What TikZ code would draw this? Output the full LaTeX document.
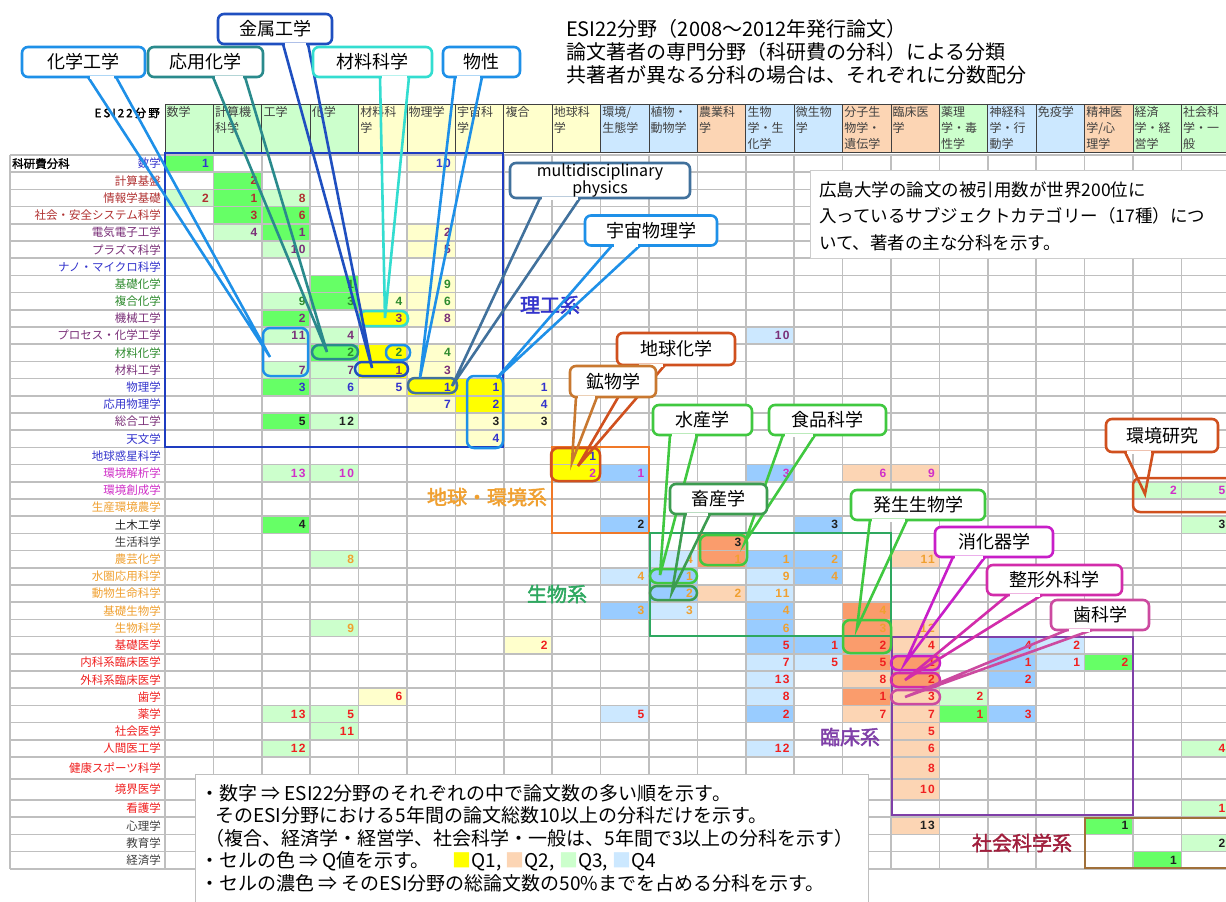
\documentclass[tikz,border=0pt]{standalone}
\usepackage{fontspec}
\setmainfont{Noto Sans CJK JP}[AutoFakeBold=2]
\newfontfamily\numfont{Liberation Sans}[LetterSpace=12]

% cell colours (Q1..Q4, dark / light)
\definecolor{q1d}{HTML}{FFFF00}
\definecolor{q1l}{HTML}{FFFFCC}
\definecolor{q2d}{HTML}{FA9C6C}
\definecolor{q2l}{HTML}{FCD5B4}
\definecolor{q3d}{HTML}{66FF66}
\definecolor{q3l}{HTML}{CCFFCC}
\definecolor{q4d}{HTML}{99CCFF}
\definecolor{q4l}{HTML}{CCE8FF}
% text colours
\definecolor{tBlue}{HTML}{3333CC}
\definecolor{tDred}{HTML}{B03030}
\definecolor{tPurp}{HTML}{7A2F78}
\definecolor{tGreen}{HTML}{2E8B2E}
\definecolor{tMag}{HTML}{D030C8}
\definecolor{tOrg}{HTML}{F0A030}
\definecolor{tRed}{HTML}{F02020}
\definecolor{tBlk}{HTML}{202020}
\definecolor{tGray}{HTML}{404040}
% callout colours
\definecolor{cBlue}{HTML}{1E90E8}
\definecolor{cTeal}{HTML}{2A8A8C}
\definecolor{cDblue}{HTML}{1F4FC0}
\definecolor{cTurq}{HTML}{33DDD0}
\definecolor{cSteel}{HTML}{41719C}
\definecolor{cRust}{HTML}{D0501E}
\definecolor{cBrown}{HTML}{C87830}
\definecolor{cGreen}{HTML}{40C840}
\definecolor{cDgreen}{HTML}{3C9C50}
\definecolor{cMagenta}{HTML}{C81EC8}
\definecolor{cPink}{HTML}{D22CAA}
\definecolor{cRose}{HTML}{CC4AA0}
% group colours
\definecolor{gBlue}{HTML}{1E3CC0}
\definecolor{gOrange}{HTML}{F07828}
\definecolor{gGreen}{HTML}{2EA860}
\definecolor{gPurple}{HTML}{7F3FA8}
\definecolor{gBrown}{HTML}{A0703A}
\definecolor{lRed}{HTML}{A01E3C}

% row tops (index = row)
\def\rowtop{{0,155,172.2,189.4,206.6,223.8,241,258.2,275.4,292.6,309.8,327,344.2,361.4,378.6,395.8,413,430.2,447.4,464.6,481.8,499,516.2,533.4,550.6,567.8,585,602.2,619.4,636.6,653.8,671,688.2,705.4,722.6,739.8,757,779,800,817.2,834.4,851.6,868.8}}

% callout tail: box, left offset, right offset, target, colour
\newcommand\calltail[5]{%
  \draw[calltail, draw=#5] ([xshift=#2pt]#1.south) -- (#4) -- ([xshift=#3pt]#1.south);
  \draw[white, line width=3pt] ([xshift=#2pt+1.6pt]#1.south) -- ([xshift=#3pt-1.6pt]#1.south);}

\def\celldata{1/1/1/q3d/tBlue, 1/6/10/q1l/tBlue, 2/2/2/q3d/tDred, 3/1/2/q3l/tDred, 3/2/1/q3d/tDred, 3/3/8/q3l/tDred,
 4/2/3/q3d/tDred, 4/3/6/q3d/tDred, 5/2/4/q3l/tPurp, 5/3/1/q3d/tPurp, 5/6/2/q1l/tPurp, 6/3/10/q3l/tPurp, 6/6/5/q1l/tPurp,
 8/4/1/q3d/tGreen, 8/6/9/q1l/tGreen, 9/3/9/q3l/tGreen, 9/4/3/q3d/tGreen, 9/5/4/q1l/tGreen, 9/6/6/q1l/tGreen,
 10/3/2/q3d/tPurp, 10/5/3/q1d/tPurp, 10/6/8/q1l/tPurp, 11/3/11/q3l/tPurp, 11/4/4/q3l/tPurp, 11/13/10/q4l/tPurp,
 12/4/2/q3d/tGreen, 12/5/2/q1d/tGreen, 12/6/4/q1l/tGreen, 13/3/7/q3l/tPurp, 13/4/7/q3l/tPurp, 13/5/1/q1d/tPurp, 13/6/3/q1l/tPurp,
 14/3/3/q3d/tBlue, 14/4/6/q3l/tBlue, 14/5/5/q1l/tBlue, 14/6/1/q1d/tBlue, 14/7/1/q1d/tBlue, 14/8/1/q1l/tBlue,
 15/6/7/q1l/tBlue, 15/7/2/q1d/tBlue, 15/8/4/q1l/tBlue, 16/3/5/q3d/tBlk, 16/4/12/q3l/tBlk, 16/7/3/q1l/tBlk, 16/8/3/q1l/tBlk,
 17/7/4/q1l/tBlue, 18/9/1/q1d/tBlue,
 19/3/13/q3l/tMag, 19/4/10/q3l/tMag, 19/9/2/q1d/tMag, 19/10/1/q4d/tMag, 19/13/3/q4d/tMag, 19/15/6/q2l/tMag, 19/16/9/q2l/tMag,
 20/21/2/q3l/tMag, 20/22/5/q3l/tMag, 22/3/4/q3d/tBlk, 22/10/2/q4d/tBlk, 22/14/3/q4d/tBlk, 22/22/3/q3l/tBlk, 23/12/3/q2d/tBlk,
 24/4/8/q3l/tOrg, 24/11/4/q4l/tOrg, 24/12/1/q2d/tOrg, 24/13/1/q4d/tOrg, 24/14/2/q4d/tOrg, 24/16/11/q2l/tOrg,
 25/10/4/q4l/tOrg, 25/11/1/q4d/tOrg, 25/13/9/q4l/tOrg, 25/14/4/q4d/tOrg, 26/11/2/q4d/tOrg, 26/12/2/q2l/tOrg, 26/13/11/q4l/tOrg,
 27/10/3/q4d/tOrg, 27/11/3/q4l/tOrg, 27/13/4/q4d/tOrg, 27/15/4/q2d/tOrg, 28/4/9/q3l/tOrg, 28/13/6/q4d/tOrg, 28/15/3/q2d/tOrg, 28/16/12/q2l/tOrg,
 29/8/2/q1l/tRed, 29/13/5/q4d/tRed, 29/14/1/q4d/tRed, 29/15/2/q2d/tRed, 29/16/4/q2l/tRed, 29/18/4/q4d/tRed, 29/19/2/q4l/tRed,
 30/13/7/q4l/tRed, 30/14/5/q4l/tRed, 30/15/5/q2d/tRed, 30/16/1/q2d/tRed, 30/18/1/q4d/tRed, 30/19/1/q4l/tRed, 30/20/2/q3d/tRed,
 31/13/13/q4l/tRed, 31/15/8/q2l/tRed, 31/16/2/q2d/tRed, 31/18/2/q4d/tRed,
 32/5/6/q1l/tRed, 32/13/8/q4l/tRed, 32/15/1/q2d/tRed, 32/16/3/q2l/tRed, 32/17/2/q3l/tRed,
 33/3/13/q3l/tRed, 33/4/5/q3l/tRed, 33/10/5/q4l/tRed, 33/13/2/q4d/tRed, 33/15/7/q2l/tRed, 33/16/7/q2l/tRed, 33/17/1/q3d/tRed, 33/18/3/q4d/tRed,
 34/4/11/q3l/tRed, 34/16/5/q2l/tRed, 35/3/12/q3l/tRed, 35/13/12/q4l/tRed, 35/16/6/q2l/tRed, 35/22/4/q3l/tRed,
 36/16/8/q2l/tRed, 37/16/10/q2l/tRed, 38/22/1/q3l/tRed, 39/16/13/q2l/tBlk, 39/20/1/q3d/tBlk, 40/22/2/q3l/tBlk, 41/21/1/q3d/tBlk}

\begin{document}
\begin{tikzpicture}[x=1pt, y=-1pt,
  gridline/.style={draw=gray!50, line width=1.6pt},
  hdr/.style={font=\fontsize{12}{16}\selectfont, align=left, anchor=north west, inner sep=1.5pt, text=black!75},
  rowlab/.style={font=\fontsize{11.5}{12}\selectfont, anchor=east, inner sep=0pt},
  num/.style={font={\numfont\bfseries\fontsize{12}{12}\selectfont}, anchor=east, inner sep=0pt},
  callbox/.style={draw, line width=2.6pt, rounded corners=6pt, fill=white, minimum height=30pt,
    inner sep=0pt, outer sep=0pt, font=\fontsize{18}{20}\selectfont},
  calltail/.style={line width=2.6pt},
  capsule/.style={line width=2.5pt, rounded corners=7pt},
  grouprect/.style={line width=2.2pt},
  grouplab/.style={font=\bfseries\fontsize{20}{20}\selectfont}]
\useasboundingbox (0,0) rectangle (1226,902);
\clip (0,0) rectangle (1226,902);
\fill[white] (0,0) rectangle (1226,902);

% title
\node[anchor=north west, align=left, inner sep=0pt, font=\fontsize{20}{23}\selectfont] (title) at (566,19)
  {ESI22分野（2008～2012年発行論文）\\論文著者の専門分野（科研費の分科）による分類\\共著者が異なる分科の場合は、それぞれに分数配分};

% header row
\node[anchor=east, inner sep=0pt, font=\bfseries\fontsize{11.5}{12}\addfontfeature{LetterSpace=18}\selectfont] (esihead) at (160,113) {ESI22分野};
\foreach \c/\txt/\f in {1/{数学}/q3l, 2/{計算機\\科学}/q3l, 3/{工学}/q3l, 4/{化学}/q3l, 5/{材料科\\学}/q1l,
    6/{物理学}/q1l, 7/{宇宙科\\学}/q1l, 8/{複合}/q1l, 9/{地球科\\学}/q1l, 10/{環境/\\生態学}/q4l,
    11/{植物・\\動物学}/q4l, 12/{農業科\\学}/q2l, 13/{生物\\学・生\\化学}/q4l, 14/{微生物\\学}/q4l,
    15/{分子生\\物学・\\遺伝学}/q2l, 16/{臨床医\\学}/q2l, 17/{薬理\\学・毒\\性学}/q3l, 18/{神経科\\学・行\\動学}/q4l,
    19/{免疫学}/q4l, 20/{精神医\\学/心\\理学}/q2l, 21/{経済\\学・経\\営学}/q3l, 22/{社会科\\学・一\\般}/q3l}{
  \pgfmathsetmacro\xa{165+(\c-1)*48.4}
  \draw[black!75, line width=0.9pt, fill=\f] (\xa,104) rectangle (\xa+48.4,152);
  \node[hdr] (head\c) at (\xa,105) {\txt};
}

% cell fills
\foreach \r/\c/\v/\f/\t in \celldata{
  \pgfmathsetmacro\xa{165+(\c-1)*48.4}
  \pgfmathsetmacro\ya{\rowtop[\r]}
  \pgfmathsetmacro\yb{\rowtop[\r+1]}
  \fill[\f] (\xa,\ya) rectangle (\xa+48.4,\yb);
}

% grid
\foreach \r in {1,...,42}{
  \pgfmathsetmacro\ya{\rowtop[\r]}
  \draw[gridline] (10,\ya) -- (1240,\ya);
}
\draw[gridline] (10,155) -- (10,868.8);
\foreach \c in {0,...,22}{
  \pgfmathsetmacro\xa{165+\c*48.4}
  \draw[gridline] (\xa,155) -- (\xa,868.8);
}

% numbers
\foreach \r/\c/\v/\f/\t in \celldata{
  \pgfmathsetmacro\xa{165+(\c-1)*48.4}
  \pgfmathsetmacro\ya{\rowtop[\r]}
  \pgfmathsetmacro\yb{\rowtop[\r+1]}
  \node[num, text=\t] at (\xa+44,{(\ya+\yb)/2}) {\v};
}

% row labels
\node[anchor=west, inner sep=0pt, font=\bfseries\fontsize{11.5}{12}\selectfont] (kakenhi) at (12,163.6) {科研費分科};
\foreach \r/\lab/\t in {1/数学/tBlue, 2/計算基盤/tDred, 3/情報学基礎/tDred, 4/社会・安全システム科学/tDred,
    5/電気電子工学/tPurp, 6/プラズマ科学/tPurp, 7/ナノ・マイクロ科学/tBlue, 8/基礎化学/tGreen, 9/複合化学/tGreen,
    10/機械工学/tPurp, 11/プロセス・化学工学/tPurp, 12/材料化学/tGreen, 13/材料工学/tPurp, 14/物理学/tBlue,
    15/応用物理学/tBlue, 16/総合工学/tPurp, 17/天文学/tBlue, 18/地球惑星科学/tBlue, 19/環境解析学/tMag,
    20/環境創成学/tMag, 21/生産環境農学/tOrg, 22/土木工学/tBlk, 23/生活科学/tGray, 24/農芸化学/tOrg,
    25/水圏応用科学/tOrg, 26/動物生命科学/tOrg, 27/基礎生物学/tOrg, 28/生物科学/tOrg, 29/基礎医学/tRed,
    30/内科系臨床医学/tRed, 31/外科系臨床医学/tRed, 32/歯学/tRed, 33/薬学/tRed, 34/社会医学/tRed,
    35/人間医工学/tRed, 36/健康スポーツ科学/tRed, 37/境界医学/tRed, 38/看護学/tRed, 39/心理学/tGray,
    40/教育学/tGray, 41/経済学/tGray}{
  \pgfmathsetmacro\ya{\rowtop[\r]}
  \pgfmathsetmacro\yb{\rowtop[\r+1]}
  \node[rowlab, text=\t] (lab\r) at (161,{(\ya+\yb)/2}) {\lab};
}

% groups
\draw[grouprect, gBlue] (165,153) rectangle (503,447);
\draw[grouprect, gOrange] (552,447) rectangle (649,533);
\draw[grouprect, gGreen] (650,533) rectangle (891,636);
\draw[grouprect, gPurple] (892,637) rectangle (1133,815);
\draw[grouprect, gBrown] (1085,818) rectangle (1240,868);
\node[grouplab, text=tBlue] (rikou) at (550,305) {理工系};
\node[grouplab, text=tOrg] (chikyuukan) at (487,497) {地球・環境系};
\node[grouplab, text=gGreen] (seibutsukei) at (557,594) {生物系};
\node[grouplab, text=gPurple] (rinshou) at (850,737) {臨床系};
\node[grouplab, text=lRed] (shakai) at (1022,843) {社会科学系};

% info and legend boxes
\node[draw=gray!40, line width=1pt, fill=white, anchor=north west, minimum width=416pt, minimum height=88pt, inner sep=0pt] (info) at (810,170) {};
\node[anchor=north west, align=left, inner sep=0pt, font=\fontsize{17.5}{26.5}\selectfont] (infotxt) at (819,181)
  {広島大学の論文の被引用数が世界200位に\\入っているサブジェクトカテゴリー（17種）につ\\いて、著者の主な分科を示す。};
\node[draw=gray!50, line width=1pt, fill=white, anchor=north west, minimum width=673pt, minimum height=140pt, inner sep=0pt] (legend) at (195,774) {};
\node[anchor=north west, align=left, inner sep=0pt, font=\fontsize{19}{22.5}\selectfont] (legendtxt) at (200,784)
  {・数字 ⇒ ESI22分野のそれぞれの中で論文数の多い順を示す。\\
   \hspace{0.8em}そのESI分野における5年間の論文総数10以上の分科だけを示す。\\
   \hspace{0.3em}（複合、経済学・経営学、社会科学・一般は、5年間で3以上の分科を示す）\\
   ・セルの色 ⇒ Q値を示す。\hspace{1.2em}{\color{q1d}■}Q1,\ {\color{q2l}■}Q2,\ {\color{q3l}■}Q3,\ {\color{q4l}■}Q4\\
   ・セルの濃色 ⇒ そのESI分野の総論文数の50\%までを占める分科を示す。};

% capsules round the cells
\draw[capsule, cBlue] (263,328) rectangle (308,376);
\draw[capsule, cTeal] (312,345) rectangle (358,359);
\draw[capsule, cDblue] (355,362) rectangle (408,376);
\draw[capsule, cTurq] (359,311) rectangle (408,326);
\draw[capsule, cBlue] (386,345) rectangle (410,360);
\draw[capsule, cSteel] (408,378) rectangle (457,393);
\draw[capsule, cBlue] (467,376) rectangle (503,448);
\draw[capsule, cRust] (551,448) rectangle (600,481);
\draw[capsule, cGreen] (650,569) rectangle (697,583);
\draw[capsule, cDgreen] (650,586) rectangle (697,600);
\draw[capsule, cGreen] (700,535) rectangle (747,565);
\draw[capsule, cGreen] (843,620) rectangle (891,653);
\draw[capsule, cMagenta] (891,656) rectangle (940,670);
\draw[capsule, cPink] (891,673) rectangle (940,687);
\draw[capsule, cRose] (891,690) rectangle (940,704);
\draw[capsule, cRust] (1133,478) rectangle (1240,512);

% callouts
\coordinate (kakougakuT) at (270,357);
\coordinate (ouyouT) at (327,352);
\coordinate (kinzokuT) at (372,368);
\coordinate (zairyouT) at (385,318);
\coordinate (busseiT) at (420,378);
\coordinate (multiT) at (452,386);
\coordinate (uchuuT) at (497,378);
\coordinate (chikyuuT) at (578,466);
\coordinate (koubutsuT) at (572,462);
\coordinate (suisanT) at (660,575);
\coordinate (shokuhinT) at (745,542);
\coordinate (chikusanT) at (672,592);
\coordinate (hasseiT) at (857,628);
\coordinate (shoukakiT) at (905,663);
\coordinate (seikeiT) at (905,680);
\coordinate (shikaT) at (905,697);
\coordinate (kankyouT) at (1145,494);

\node[callbox, draw=cBlue, minimum width=123pt] (kakougaku) at (83.5,62) {化学工学};
\calltail{kakougaku}{4.5}{32.5}{kakougakuT}{cBlue}
\node[callbox, draw=cTeal, minimum width=115pt] (ouyou) at (205.5,62) {応用化学};
\calltail{ouyou}{7.5}{39.5}{ouyouT}{cTeal}
\node[callbox, draw=cDblue, minimum width=114pt] (kinzoku) at (275,29) {金属工学};
\calltail{kinzoku}{8}{33}{kinzokuT}{cDblue}
\node[callbox, draw=cTurq, minimum width=119pt] (zairyou) at (372.5,62) {材料科学};
\calltail{zairyou}{7.5}{36.5}{zairyouT}{cTurq}
\node[callbox, draw=cBlue, minimum width=77pt] (bussei) at (481.5,62) {物性};
\calltail{bussei}{-26.5}{0.5}{busseiT}{cBlue}
\node[callbox, draw=cSteel, minimum width=180pt, minimum height=35pt, align=center,
  font=\fontsize{16}{17}\selectfont] (multi) at (600,180.5) {multidisciplinary\\physics};
\calltail{multi}{-60}{-20}{multiT}{cSteel}
\node[callbox, draw=cBlue, minimum width=132pt] (uchuu) at (651,230.5) {宇宙物理学};
\calltail{uchuu}{-39}{-11}{uchuuT}{cBlue}
\node[callbox, draw=cRust, minimum width=118pt, minimum height=32pt] (chikyuu) at (676,349) {地球化学};
\calltail{chikyuu}{-39}{-11}{chikyuuT}{cRust}
\node[callbox, draw=cBrown, minimum width=86pt, minimum height=31pt] (koubutsu) at (613,381.5) {鉱物学};
\calltail{koubutsu}{-37}{-16}{koubutsuT}{cBrown}
\node[callbox, draw=cGreen, minimum width=99pt] (suisan) at (702.5,420) {水産学};
\calltail{suisan}{-32.5}{-5.5}{suisanT}{cGreen}
\node[callbox, draw=cGreen, minimum width=117pt] (shokuhin) at (827.5,420) {食品科学};
\calltail{shokuhin}{-44.5}{-12.5}{shokuhinT}{cGreen}
\node[callbox, draw=cDgreen, minimum width=97pt] (chikusan) at (718.5,499) {畜産学};
\calltail{chikusan}{-33.5}{-8.5}{chikusanT}{cDgreen}
\node[callbox, draw=cGreen, minimum width=134pt] (hassei) at (918,505) {発生生物学};
\calltail{hassei}{-48}{-11}{hasseiT}{cGreen}
\node[callbox, draw=cMagenta, minimum width=118pt] (shoukaki) at (994,542) {消化器学};
\calltail{shoukaki}{-41}{-9}{shoukakiT}{cMagenta}
\node[callbox, draw=cPink, minimum width=135pt] (seikei) at (1054.5,580) {整形外科学};
\calltail{seikei}{-46.5}{-12.5}{seikeiT}{cPink}
\node[callbox, draw=cRose, minimum width=98pt] (shika) at (1100,615) {歯科学};
\calltail{shika}{-33}{-8}{shikaT}{cRose}
\node[callbox, draw=cRust, minimum width=112pt, minimum height=33pt] (kankyou) at (1162,435.5) {環境研究};
\calltail{kankyou}{-37}{-9}{kankyouT}{cRust}
\end{tikzpicture}
\end{document}
